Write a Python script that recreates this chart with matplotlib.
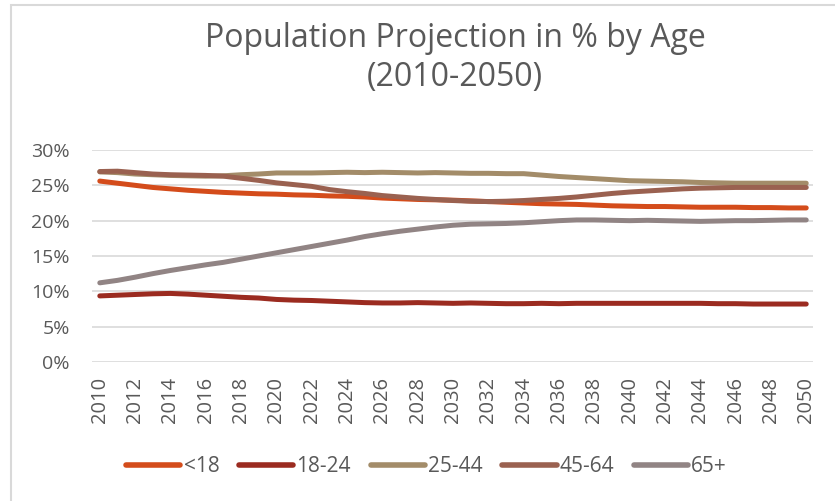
import matplotlib.pyplot as plt
from matplotlib.patches import Rectangle
import numpy as np

years = list(range(2010, 2051))

under18 = [25.6, 25.3, 25.0, 24.7, 24.5, 24.3, 24.15, 24.0, 23.9, 23.8,
           23.75, 23.65, 23.6, 23.5, 23.45, 23.35, 23.2, 23.1, 23.0, 22.95,
           22.9, 22.8, 22.7, 22.6, 22.5, 22.4, 22.35, 22.3, 22.2, 22.1,
           22.05, 22.0, 22.0, 21.95, 21.9, 21.9, 21.9, 21.85, 21.85, 21.8, 21.8]
age18_24 = [9.35, 9.45, 9.55, 9.65, 9.7, 9.6, 9.45, 9.3, 9.15, 9.05,
            8.85, 8.75, 8.7, 8.6, 8.5, 8.4, 8.35, 8.35, 8.4, 8.35,
            8.3, 8.35, 8.3, 8.25, 8.25, 8.3, 8.25, 8.3, 8.3, 8.3,
            8.3, 8.3, 8.3, 8.3, 8.3, 8.25, 8.25, 8.2, 8.2, 8.2, 8.2]
age25_44 = [26.9, 26.8, 26.6, 26.5, 26.4, 26.35, 26.3, 26.35, 26.5, 26.6,
            26.75, 26.75, 26.75, 26.8, 26.85, 26.8, 26.85, 26.8, 26.75, 26.8,
            26.75, 26.7, 26.7, 26.65, 26.65, 26.45, 26.25, 26.1, 25.95, 25.8,
            25.65, 25.6, 25.55, 25.5, 25.4, 25.35, 25.3, 25.3, 25.3, 25.3, 25.3]
age45_64 = [26.95, 27.0, 26.8, 26.6, 26.5, 26.45, 26.4, 26.3, 26.0, 25.7,
            25.35, 25.1, 24.85, 24.4, 24.1, 23.85, 23.55, 23.35, 23.15, 23.0,
            22.85, 22.75, 22.7, 22.75, 22.85, 23.0, 23.15, 23.35, 23.6, 23.85,
            24.05, 24.2, 24.35, 24.5, 24.6, 24.65, 24.7, 24.7, 24.7, 24.7, 24.7]
age65plus = [11.2, 11.55, 12.0, 12.5, 12.95, 13.35, 13.75, 14.1, 14.55, 15.0,
             15.45, 15.9, 16.35, 16.8, 17.25, 17.75, 18.15, 18.5, 18.8, 19.1,
             19.35, 19.5, 19.55, 19.6, 19.7, 19.85, 20.0, 20.1, 20.1, 20.05,
             20.0, 20.05, 20.0, 19.95, 19.9, 19.95, 20.0, 20.0, 20.05, 20.1, 20.1]

series = [('<18', under18, '#D44C1B'),
          ('18-24', age18_24, '#9B2B20'),
          ('25-44', age25_44, '#A38C69'),
          ('45-64', age45_64, '#9A6150'),
          ('65+', age65plus, '#918484')]

plt.rcParams['font.family'] = ['Open Sans', 'DejaVu Sans']
txt = '#595959'

fig = plt.figure(figsize=(8.35, 5.01), dpi=100)
# chart area border (only left and top edges fall inside the image)
fig.patches.append(Rectangle((11 / 835, -0.1), 1.2, (501 - 5) / 501 + 0.1,
                             transform=fig.transFigure, fill=False,
                             edgecolor='#D9D9D9', linewidth=1.5))
ax = fig.add_axes([0.110, 0.2775, 0.864, 0.4231])

for name, vals, col in series:
    ax.plot(years, vals, color=col, linewidth=3.6, solid_capstyle='round', label=name)

ax.set_ylim(0, 30)
ax.set_xlim(2009.55, 2050.4)
ax.set_yticks(np.arange(0, 31, 5))
ax.set_yticklabels([f'{v}%' for v in range(0, 31, 5)])
ax.set_xticks(years[::2])
ax.set_xticklabels([str(y) for y in years[::2]], rotation=90)
ax.grid(axis='y', color='#D9D9D9', linewidth=1.2)
ax.set_axisbelow(True)
for s in ax.spines.values():
    s.set_visible(False)
ax.tick_params(length=0, colors=txt)
ax.tick_params(axis='y', labelsize=14, pad=16)
ax.tick_params(axis='x', labelsize=14.5, pad=11)

fig.text(0.545, 0.884, 'Population Projection in % by Age\n(2010-2050)',
         ha='center', va='center', fontsize=23, color=txt, linespacing=1.25)

leg = fig.legend(loc='center', bbox_to_anchor=(0.511, 0.068), ncol=5, frameon=False,
                 fontsize=15, labelcolor=txt, handlelength=2.6, handletextpad=0.15,
                 columnspacing=0.95)
for h in leg.get_lines():
    h.set_linewidth(4)

fig.savefig('out.png', dpi=100)
